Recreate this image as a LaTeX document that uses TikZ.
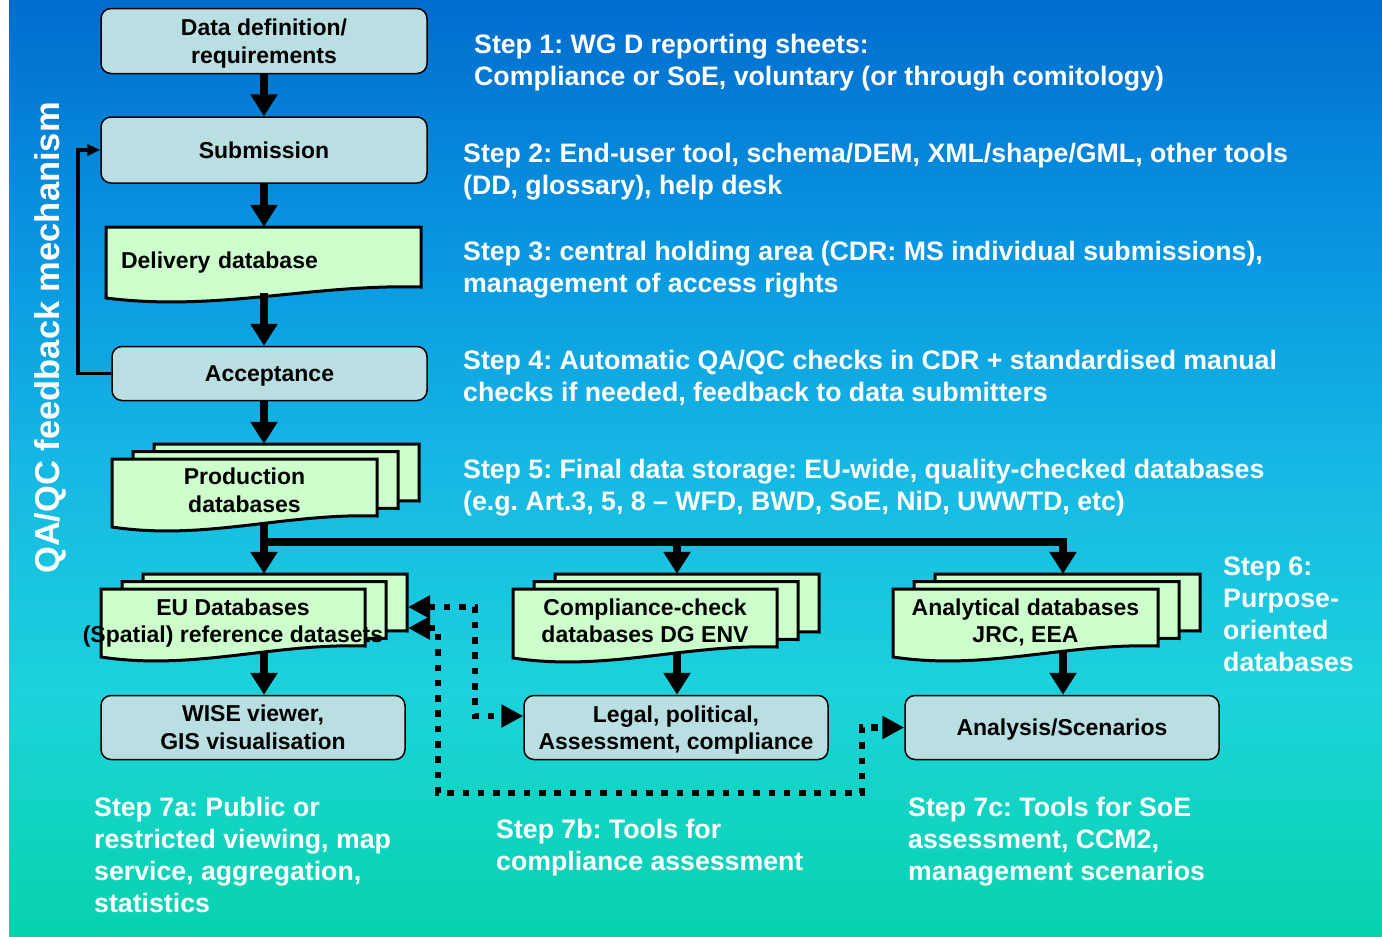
\documentclass[tikz,border=0pt]{standalone}
\usepackage{fontspec}
\setmainfont{Liberation Sans}
\usetikzlibrary{arrows.meta,calc}
\frenchspacing

% colours
\definecolor{bgA}{RGB}{0,108,206}
\definecolor{bgB}{RGB}{8,148,224}
\definecolor{bgC}{RGB}{22,184,228}
\definecolor{bgD}{RGB}{28,210,220}
\definecolor{bgE}{RGB}{18,212,196}
\definecolor{bgF}{RGB}{8,210,174}
\definecolor{boxfill}{RGB}{185,223,227}
\definecolor{docfill}{RGB}{204,255,204}

% sky-to-sea backdrop (25bp = bottom edge, 75bp = top edge)
\pgfdeclareverticalshading{backdrop}{100bp}{%
  color(0bp)=(bgF); color(25bp)=(bgF); color(32bp)=(bgE); color(38bp)=(bgD);
  color(50bp)=(bgC); color(62.5bp)=(bgB); color(75bp)=(bgA); color(100bp)=(bgA)}

\newcommand\boxfont{\fontsize{23}{27.5}\selectfont\bfseries}
\newcommand\stepfont{\fontsize{26.7}{32.1}\selectfont\bfseries}
% a line whose descenders do not count when the label is centred
\newcommand\nd[1]{\raisebox{0pt}[\height][0pt]{#1}}

\tikzset{
  procbox/.style={draw=black, line width=1.5pt, fill=boxfill, rounded corners=10pt,
                  align=center, inner sep=0pt, font=\boxfont},
  docline/.style={draw=black, line width=3pt, fill=docfill, line join=miter},
  doctext/.style={inner sep=0pt, align=center, font=\boxfont},
  layer/.style={inner sep=0pt},
  flowarrow/.style={line width=8pt, -{Triangle[width=26pt,length=22pt]}},
  fbarrow/.style={line width=3.5pt, -{Triangle[width=11pt,length=13pt]}},
  dotlink/.style={line width=6.5pt, dash pattern=on 6.5pt off 8.8pt,
                  {Triangle[width=22pt,length=22pt]}-{Triangle[width=22pt,length=22pt]}},
  steptext/.style={text=white, font=\stepfont, align=left, inner sep=0pt, anchor=north west},
}

% document sheet with wavy lower edge: x1, top, x2, lower-left y
\newcommand\docpath[4]{%
  \path[docline] ({#1},{#2}) -- ({#3},{#2}) -- ({#3},{(#4)-11})
    .. controls ({(#1)+0.65*((#3)-(#1))},{(#4)-14}) and ({(#1)+0.35*((#3)-(#1))},{(#4)+14}) .. ({#1},{#4}) -- cycle;}

% pile of three sheets: name, x1, top, x2, lower-left y, text
\newcommand\docstack[6]{%
  \pgfmathsetmacro\dsw{#4-#2}%
  \pgfmathsetmacro\dsh{#5-5-#3}%
  \pgfmathsetmacro\dscx{(#2+#4)/2}%
  \pgfmathsetmacro\dscy{(#3+#5-5)/2}%
  \docpath{#2+42}{#3-15}{#4+42}{#5-15}%
  \docpath{#2+21}{#3-7.5}{#4+21}{#5-7.5}%
  \docpath{#2}{#3}{#4}{#5}%
  \node[layer, minimum width=\dsw, minimum height=\dsh] (#1c) at ({\dscx+42},{\dscy-15}) {};
  \node[layer, minimum width=\dsw, minimum height=\dsh] (#1b) at ({\dscx+21},{\dscy-7.5}) {};
  \node[doctext, minimum width=\dsw, minimum height=\dsh] (#1) at (\dscx,\dscy) {#6};
}

\begin{document}
\begin{tikzpicture}[x=1pt,y=-1pt]
\useasboundingbox (0,0) rectangle (1382,937);
\fill[white] (0,0) rectangle (1382,937);
\shade[shading=backdrop] (9,0) rectangle (1382,937);

% main column
\node[procbox, minimum width=326, minimum height=65] (datadef) at (264,41) {Data definition/\\\nd{requirements}};
\node[procbox, minimum width=326, minimum height=66] (subm) at (264,150) {Submission};

\docpath{106}{227}{421}{298}
\node[doctext, minimum width=315, minimum height=66, text width=285, align=left] (deliv) at (263.5,260) {\nd{Delivery database}};

\node[procbox, minimum width=315, minimum height=54] (accept) at (269.5,373.5) {\nd{Acceptance}};

\docstack{prod}{112}{459}{377}{527}{Production\\databases}

% purpose-oriented databases
\docstack{eudb}{101}{589}{365}{657}{EU Databases\\\nd{(Spatial) reference datasets}}
\docstack{comp}{513}{589}{777}{658}{Compliance-check\\databases DG ENV}
\docstack{anal}{893}{589}{1158}{657}{Analytical databases\\\nd{JRC, EEA}}

% tools
\node[procbox, minimum width=304, minimum height=64] (wise) at (253,727.5) {WISE viewer,\\GIS visualisation};
\node[procbox, minimum width=304, minimum height=64] (legal) at (676,727.5) {Legal, political,\\\nd{Assessment, compliance}};
\node[procbox, minimum width=314, minimum height=64] (scen) at (1062,727.5) {\nd{Analysis/Scenarios}};

% flow arrows
\coordinate (col) at (264,0);
\coordinate (bus) at (264,542);
\coordinate (drop2) at (677,542);
\coordinate (drop3) at (1063,542);
\draw[flowarrow] (datadef.south) -- (subm.north);
\draw[flowarrow] (subm.south) -- (subm.south |- deliv.north);
\draw[flowarrow] (deliv.south -| col) -- (accept.north -| col);
\draw[flowarrow] (accept.south -| col) -- (prodc.north -| col);
\draw[flowarrow] (prod.south -| col) -- (eudbc.north -| col);
\draw[flowarrow] (bus) -- (drop2) -- (compc.north -| drop2);
\draw[flowarrow] (drop2) -- (drop3) -- (analc.north -| drop3);
\draw[flowarrow] (eudb.south -| col) -- (wise.north -| col);
\draw[flowarrow] (comp.south -| drop2) -- (legal.north -| drop2);
\draw[flowarrow] (anal.south -| drop3) -- (scen.north -| drop3);

% feedback loop
\coordinate (fbx) at (78,0);
\draw[fbarrow] (accept.west) -- (accept.west -| fbx) |- (subm.west);

% dotted links between reference data and tools
\coordinate (refA) at (408,607);
\coordinate (refB) at (408,628);
\draw[dotlink] (refA) -- ++(67,0) |- ([yshift=11.5pt]legal.west);
\draw[dotlink] (refB) -- ++(30,0) |- (862,793) |- (scen.west);

% side label
\node[rotate=90, text=white, font=\fontsize{34.5}{40}\selectfont\bfseries, inner sep=0pt] (qaqc) at (50,338) {QA/QC feedback mechanism};

% step descriptions
\node[steptext] (s1) at (474,33.5) {Step 1: WG D reporting sheets:\\Compliance or SoE, voluntary (or through comitology)};
\node[steptext] (s2) at (463,142.5) {Step 2: End-user tool, schema/DEM, XML/shape/GML, other tools\\(DD, glossary), help desk};
\node[steptext] (s3) at (463,240.5) {Step 3: central holding area (CDR: MS individual submissions),\\management of access rights};
\node[steptext] (s4) at (463,349.5) {Step 4: Automatic QA/QC checks in CDR + standardised manual\\checks if needed, feedback to data submitters};
\node[steptext] (s5) at (463,458.5) {Step 5: Final data storage: EU-wide, quality-checked databases\\(e.g. Art.3, 5, 8 -- WFD, BWD, SoE, NiD, UWWTD, etc)};
\node[steptext] (s6) at (1223,556.5) {Step 6:\\Purpose-\\oriented\\databases};
\node[steptext] (s7a) at (94,796.5) {Step 7a: Public or\\restricted viewing, map\\service, aggregation,\\statistics};
\node[steptext] (s7b) at (496,818.5) {Step 7b: Tools for\\compliance assessment};
\node[steptext] (s7c) at (908,796.5) {Step 7c: Tools for SoE\\assessment, CCM2,\\management scenarios};
\end{tikzpicture}
\end{document}
